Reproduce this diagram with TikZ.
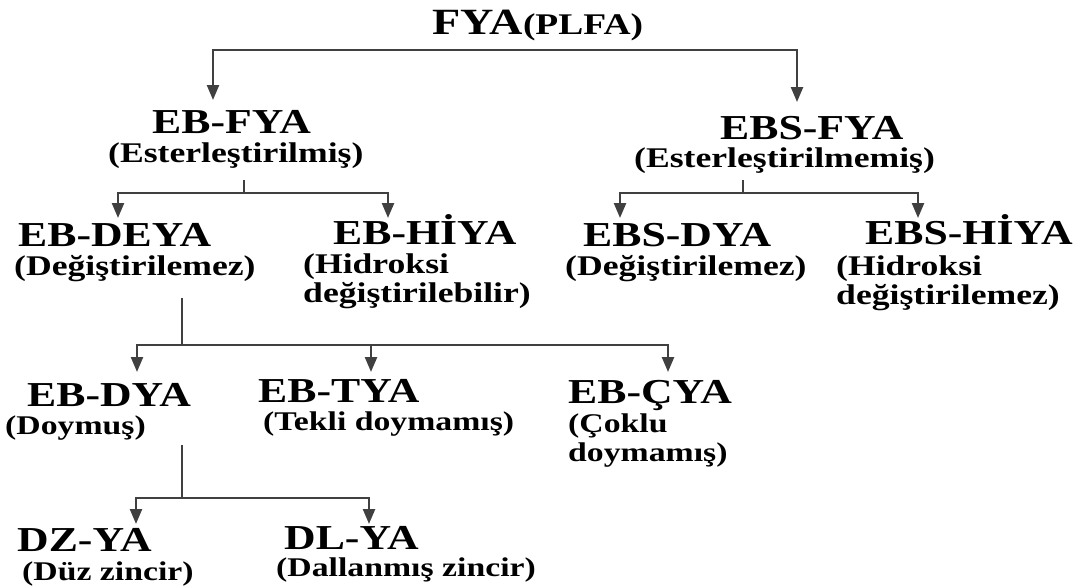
\documentclass[tikz,border=0pt]{standalone}
\usepackage{fontspec}
\setmainfont{Liberation Serif}[FakeStretch=1.25]
\usepackage{tikz}
\usetikzlibrary{arrows.meta}

\tikzset{
  lbl/.style={inner sep=0pt, anchor=base west, align=left},
  head/.style={lbl, font=\bfseries\fontsize{35}{40}\selectfont},
  sub/.style={lbl, font=\bfseries\fontsize{28.5}{29}\selectfont},
  subsm/.style={lbl, font=\bfseries\fontsize{27}{29}\selectfont},
  link/.style={draw=black!75, line width=2.4pt},
  arr/.style={link, -{Triangle[width=12pt,length=15pt]}}
}

\begin{document}
\begin{tikzpicture}[x=1pt, y=-1pt]
 \useasboundingbox (0,0) rectangle (1085,587);
 % labels (multi-line ones sit on the baseline of their last line)
 \node[lbl] (fya) at (432,34) {\bfseries{\fontsize{37}{40}\selectfont FYA}{\fontsize{30}{32}\selectfont (PLFA)}};
 \node[head] (ebfya) at (152,133) {EB-FYA};
 \node[sub] (ebfya-sub) at (108,162) {(Esterleştirilmiş)};
 \node[head] (ebsfya) at (720,139) {EBS-FYA};
 \node[sub] (ebsfya-sub) at (634,167) {(Esterleştirilmemiş)};
 \node[head] (ebdeya) at (18,246) {EB-DEYA};
 \node[sub] (ebdeya-sub) at (14,275) {(Değiştirilemez)};
 \node[head] (ebhiya) at (333,244) {EB-HİYA};
 \node[sub] (ebhiya-sub) at (303,302) {(Hidroksi\\değiştirilebilir)};
 \node[head] (ebsdya) at (583,246) {EBS-DYA};
 \node[sub] (ebsdya-sub) at (565,275) {(Değiştirilemez)};
 \node[head] (ebshiya) at (865,244) {EBS-HİYA};
 \node[sub] (ebshiya-sub) at (836,304) {(Hidroksi\\değiştirilemez)};
 \node[head] (ebdya) at (27,406) {EB-DYA};
 \node[subsm] (ebdya-sub) at (5,434) {(Doymuş)};
 \node[head] (ebtya) at (258,402) {EB-TYA};
 \node[subsm] (ebtya-sub) at (263,430) {(Tekli doymamış)};
 \node[head] (ebcya) at (568,403) {EB-ÇYA};
 \node[subsm] (ebcya-sub) at (568,461) {(Çoklu\\doymamış)};
 \node[head] (dzya) at (17,551) {DZ-YA};
 \node[subsm] (dzya-sub) at (22,580) {(Düz zincir)};
 \node[head] (dlya) at (284,549) {DL-YA};
 \node[subsm] (dlya-sub) at (276,576) {(Dallanmış zincir)};
 % junctions and arrow tips
 \coordinate (b0) at (484,50);
 \coordinate (t01) at (213,100); \coordinate (t02) at (797,102);
 \coordinate (s1) at (244,180); \coordinate (b1) at (244,193);
 \coordinate (t11) at (118,218); \coordinate (t12) at (388,218);
 \coordinate (s2) at (743,180); \coordinate (b2) at (743,193);
 \coordinate (t21) at (620,218); \coordinate (t22) at (918,218);
 \coordinate (s3) at (182,298); \coordinate (b3) at (182,345);
 \coordinate (t31) at (137,372); \coordinate (t32) at (371,372); \coordinate (t33) at (668,372);
 \coordinate (s4) at (182,445); \coordinate (b4) at (182,498);
 \coordinate (t41) at (136,524); \coordinate (t42) at (369,524);
 % connectors
 \draw[arr] (b0) -| (t01);
 \draw[arr] (b0) -| (t02);
 \draw[link] (s1) -- (b1);
 \draw[arr] (b1) -| (t11);
 \draw[arr] (b1) -| (t12);
 \draw[link] (s2) -- (b2);
 \draw[arr] (b2) -| (t21);
 \draw[arr] (b2) -| (t22);
 \draw[link] (s3) -- (b3);
 \draw[arr] (b3) -| (t31);
 \draw[arr] (b3) -| (t32);
 \draw[arr] (b3) -| (t33);
 \draw[link] (s4) -- (b4);
 \draw[arr] (b4) -| (t41);
 \draw[arr] (b4) -| (t42);
\end{tikzpicture}
\end{document}
